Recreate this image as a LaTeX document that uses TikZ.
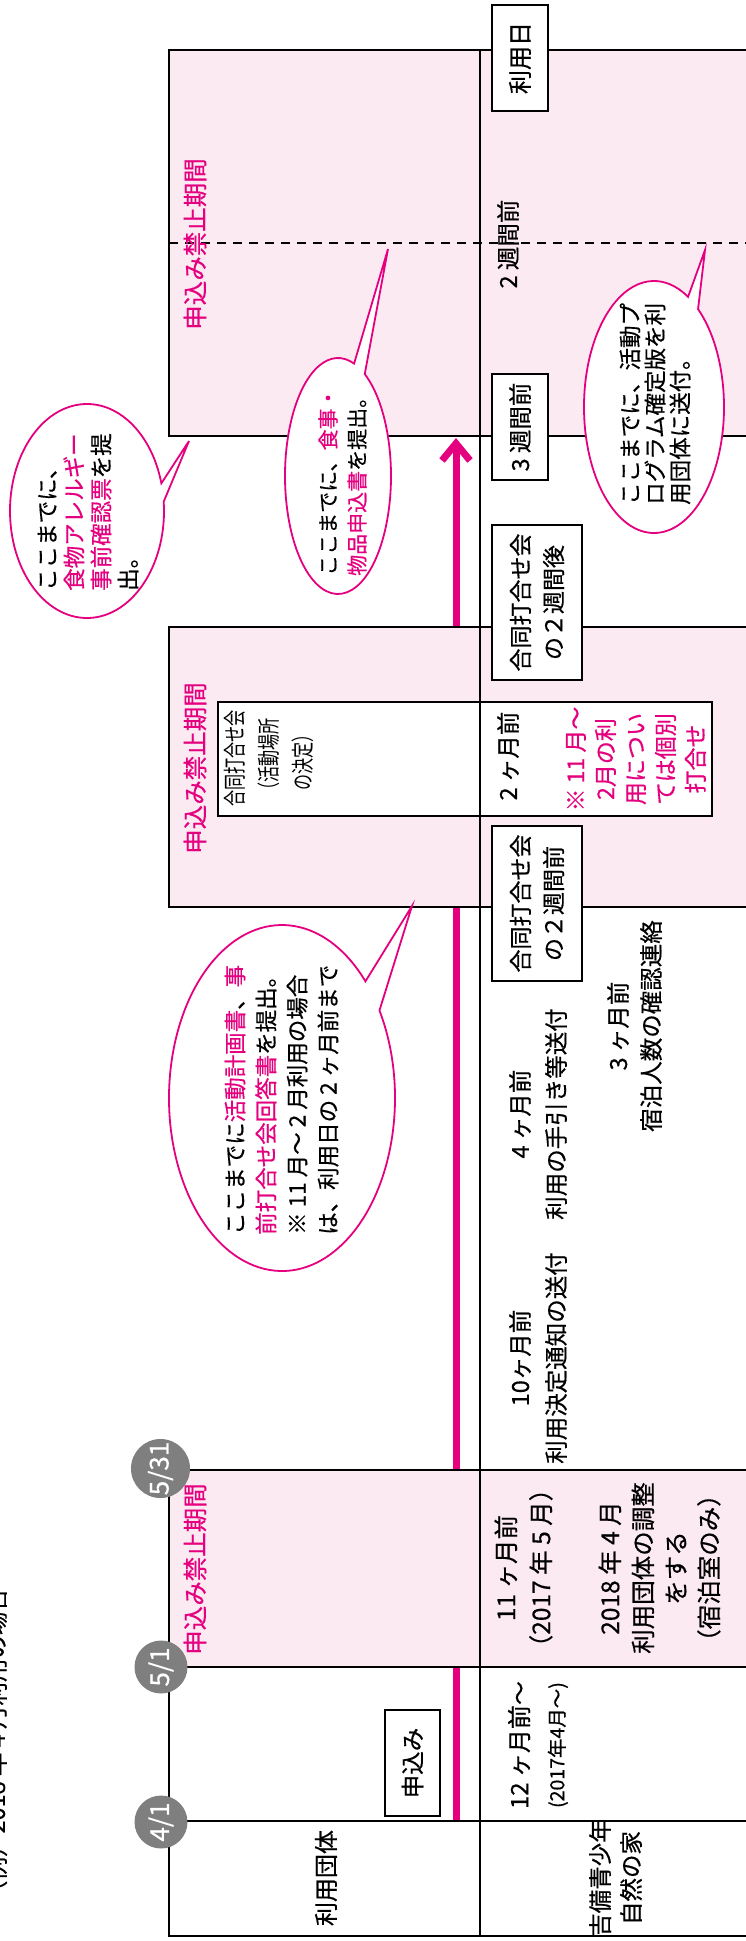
\documentclass[tikz,border=0pt]{standalone}
\usepackage{fontspec}
\setmainfont{Noto Sans CJK JP}[FakeBold=0.5]
\newfontfamily\condjp{Noto Sans CJK JP}[FakeStretch=0.7]
\usetikzlibrary{arrows.meta}
\definecolor{mag}{HTML}{E4007F}
\definecolor{pinkbg}{HTML}{FCEAF2}
\definecolor{circgray}{HTML}{7F7F7F}
\newcommand\pk[1]{\textcolor{mag}{#1}}
\begin{document}
\begin{tikzpicture}[x=1pt,y=-1pt,
  txt/.style={rotate=90, inner sep=0pt, align=center, font=\fontsize{23.5}{34}\selectfont},
  lbox/.style={txt, draw, fill=white, line width=1.7pt},
  tline/.style={line width=2pt, black},
  balloon/.style={draw=mag, fill=white, line width=1.8pt, line join=miter},
  btxt/.style={txt, anchor=west, align=left},
  stoplbl/.style={txt, text=mag, font=\fontsize{24.5}{24.5}\selectfont},
  datecirc/.style={circle, fill=circgray, minimum size=53pt, inner sep=0pt, text=white, rotate=90, font=\fontsize{26}{26}\selectfont},
  pinkline/.style={mag, line width=7pt}]
\useasboundingbox (0,0) rectangle (746,1941);
% pink stop periods
\fill[pinkbg] (169,50) rectangle (750,436);
\fill[pinkbg] (169,627) rectangle (750,907);
\fill[pinkbg] (169,1470) rectangle (750,1667);
% white meeting box
\node[draw, fill=white, line width=1.7pt, minimum width=494pt, minimum height=114pt, inner sep=0pt] (meet) at (465,759) {};
% pink flow line
\coordinate (p1) at (456,1821); \coordinate (p2) at (456,1667);
\coordinate (p3) at (456,1470); \coordinate (p4) at (456,907);
\coordinate (p5) at (456,627);  \coordinate (p6) at (456,438);
\draw[pinkline] (p1) -- (p2);
\draw[pinkline] (p3) -- (p4);
\draw[pinkline, -{Straight Barb[length=17pt,width=28pt]}] (p5) -- (p6);
% table lines
\draw[tline] (750,50) -- (169,50) -- (169,436) -- (750,436);
\draw[tline] (750,627) -- (169,627) -- (169,907) -- (750,907);
\draw[tline] (750,1470) -- (169,1470) -- (169,1936) -- (750,1936);
\draw[tline] (169,1667) -- (750,1667);
\draw[tline] (169,1821) -- (750,1821);
\draw[tline] (480,50) -- (480,1936);
\draw[line width=1.6pt, dash pattern=on 9pt off 7pt] (169,243) -- (750,243);
% labels in the stop periods
\node[stoplbl] (s3) at (195,244) {申込み禁止期間};
\node[stoplbl] (s2) at (195,768) {申込み禁止期間};
\node[stoplbl] (s1) at (195,1569) {申込み禁止期間};
% boxed labels
\node[lbox, minimum width=106pt, minimum height=56pt, font=\fontsize{24}{24}\selectfont] (day) at (520,58) {利用日};
\node[lbox, minimum width=106pt, minimum height=56pt] (w3) at (520,427) {3 週間前};
\node[lbox, minimum width=155pt, minimum height=90pt, font=\fontsize{23}{33}\selectfont] (after) at (537,602.5) {合同打合せ会\\の２週間後};
\node[lbox, minimum width=155pt, minimum height=90pt, font=\fontsize{23}{33}\selectfont] (before) at (537,903.5) {合同打合せ会\\の２週間前};
\node[lbox, minimum width=106pt, minimum height=55pt] (apply) at (412.5,1763) {申込み};
% balloons
\draw[balloon] (87,511) ++(-5:77 and 107) arc[start angle=-5, end angle=345, x radius=77, y radius=107] -- (189,441) -- cycle;
\draw[balloon] (338,476) ++(-59.7:53 and 118) arc[start angle=-59.7, end angle=287.7, x radius=53, y radius=118] -- (388,249) -- cycle;
\draw[balloon] (654,407) ++(-51:70 and 126) arc[start angle=-51, end angle=299.1, x radius=70, y radius=126] -- (705,250) -- cycle;
\draw[balloon] (282,1098) ++(-30.4:113 and 173) arc[start angle=-30.4, end angle=317.6, x radius=113, y radius=173] -- (412,906) -- cycle;
\node[btxt, font=\fontsize{22.5}{27}\selectfont] (ta) at (88,591) {ここまでに、\\\pk{食物アレルギー}\\\pk{事前確認票}を提\\出。};
\node[btxt, font=\fontsize{21}{29}\selectfont] (tb) at (342.5,576) {ここまでに、\pk{食事・}\\\pk{物品申込書}を提出。};
\node[btxt, font=\fontsize{22.5}{25}\selectfont] (tc) at (655,505) {ここまでに、活動プ\\ログラム確定版を利\\用団体に送付。};
\node[btxt, font=\fontsize{22.5}{31}\selectfont] (td) at (281.5,1235) {ここまでに\pk{活動計画書}、\pk{事}\\\pk{前打合せ会回答書}を提出。\\※ 11 月～ 2 月利用の場合\\は、利用日の 2 ヶ月前まで};
% row texts
\node[txt] (w2) at (508,244) {2 週間前};
\node[txt, font=\condjp\fontsize{23}{34}\selectfont] (meettxt) at (269,758.5) {合同打合せ会\\（活動場所\\の決定）};
\node[txt] (m2) at (508,756) {2 ヶ月前};
\node[txt, text=mag, font=\fontsize{23}{30}\selectfont] (ind) at (636,759) {※ 11 月～\\2月の利\\用につい\\ては個別\\打合せ};
\node[txt, font=\fontsize{23.5}{33}\selectfont] (m3) at (634.5,1026) {3 ヶ月前\\宿泊人数の確認連絡};
\node[txt, font=\fontsize{23.5}{36}\selectfont] (m4) at (538,1114) {4 ヶ月前\\利用の手引き等送付};
\node[txt, font=\fontsize{23.5}{36}\selectfont] (m10) at (538,1358) {10ヶ月前\\利用決定通知の送付};
\node[txt, font=\fontsize{24.5}{35}\selectfont] (m11) at (523.5,1568) {11 ヶ月前\\（2017 年 5 月）};
\node[txt, font=\fontsize{24.5}{33}\selectfont] (adj) at (659.5,1568) {2018 年 4 月\\利用団体の調整\\をする\\（宿泊室のみ）};
\node[txt, font=\fontsize{24}{36}\selectfont] (m12) at (538,1745) {12 ヶ月前～\\{\fontsize{19.5}{19.5}\selectfont (2017年4月～)}};
\node[txt, font=\fontsize{24}{24}\selectfont] (usr) at (326,1878) {利用団体};
\node[txt, font=\fontsize{23.5}{31}\selectfont] (kibi) at (615.5,1878) {吉備青少年\\自然の家};
\node[txt] (ex) at (-4,1746) {（例）2018 年 4 月利用の場合};
% date circles
\node[datecirc] (c531) at (160.5,1468.5) {5/31};
\node[datecirc] (c51) at (161,1667) {5/1};
\node[datecirc] (c41) at (161,1822) {4/1};
\end{tikzpicture}
\end{document}
